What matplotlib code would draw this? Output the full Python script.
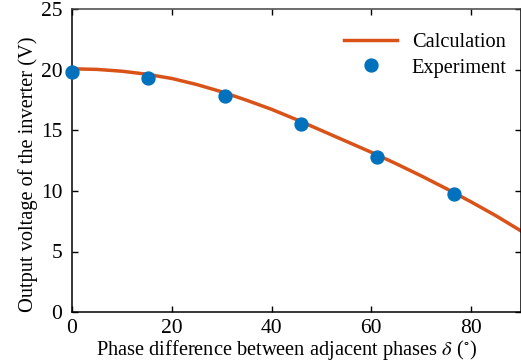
import matplotlib
matplotlib.use("Agg")
import matplotlib.pyplot as plt

plt.rcParams['font.family'] = ['Liberation Serif', 'DejaVu Serif']
plt.rcParams['mathtext.fontset'] = 'stix'

# Calculated output voltage vs. phase difference
calc_delta = [0, 5, 10, 15, 20, 25, 30, 35, 40, 45, 50, 55, 60, 65, 70, 75, 80, 85, 90]
calc_voltage = [20.1, 20.05, 19.9, 19.65, 19.3, 18.8, 18.2, 17.5, 16.75, 15.9,
                15.0, 14.1, 13.2, 12.25, 11.25, 10.2, 9.1, 7.95, 6.7]

# Measured points
exp_delta = [0, 15.3, 30.6, 45.9, 61.2, 76.5]
exp_voltage = [19.85, 19.35, 17.85, 15.5, 12.85, 9.75]

xticks = [0, 20, 40, 60, 80]
yticks = [0, 5, 10, 15, 20, 25]

fig = plt.figure(figsize=(5.21, 3.64), dpi=100)
ax = fig.add_axes([72 / 521, 52 / 364, 449 / 521, 302.5 / 364])

ax.plot(calc_delta, calc_voltage, color='#D95319', lw=2.5, label='Calculation', zorder=2)
ax.plot(exp_delta, exp_voltage, 'o', color='#0072BD', ms=9.3, label='Experiment',
        clip_on=False, zorder=3)

ax.set_xlim(0, 90)
ax.set_ylim(0, 25)
ax.set_xticks(xticks)
ax.set_yticks(yticks)
ax.tick_params(direction='in', top=True, right=True, labelsize=15.5, length=4, width=1)
ax.tick_params(axis='x', pad=5)
ax.tick_params(axis='y', pad=7)
for s in ax.spines.values():
    s.set_linewidth(1.1)
ax.spines['top'].set_color('#444444')

ax.set_xlabel(r'Phase difference between adjacent phases $\delta$ ($^{\circ}$)', fontsize=14.7, labelpad=0)
ax.set_ylabel('Output voltage of the inverter (V)', fontsize=14.7, labelpad=2)
ax.xaxis.label.set_x(0.478)
ax.yaxis.label.set_y(0.456)

ax.legend(loc='upper right', frameon=False, fontsize=14.7, handlelength=2.6,
          bbox_to_anchor=(1.0, 0.97), borderaxespad=0.3, handletextpad=0.7,
          labelspacing=0.3)

fig.savefig('out.png', dpi=100)
